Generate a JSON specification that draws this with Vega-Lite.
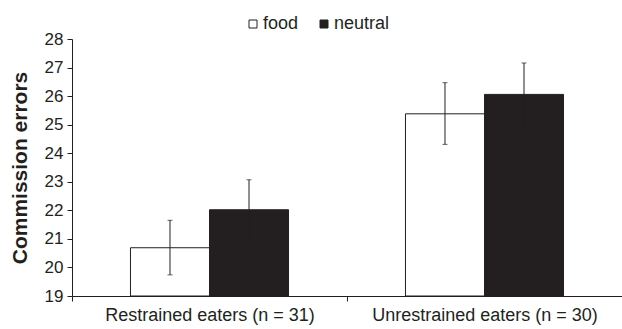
{
  "$schema": "https://vega.github.io/schema/vega-lite/v6.json",
  "width": 550,
  "height": 257,
  "autosize": "none",
  "padding": {"left": 72, "top": 39, "right": 0, "bottom": 33},
  "background": "white",
  "config": {
    "font": "Liberation Sans",
    "view": {"stroke": null},
    "axis": {"grid": false, "domainColor": "#231f20", "tickColor": "#231f20", "labelColor": "#231f20", "titleColor": "#231f20", "domainWidth": 1, "tickWidth": 1},
    "axisY": {"labelOverlap": false, "labelFontSize": 17, "tickSize": 5, "labelPadding": 4, "titleFontSize": 21, "titleFontWeight": "bold", "titlePadding": 14}
  },
  "data": {
    "values": [
      {"group": "Restrained eaters (n = 31)", "cue": "food", "mean": 20.69, "lo": 19.74, "hi": 21.65},
      {"group": "Restrained eaters (n = 31)", "cue": "neutral", "mean": 22.02, "lo": 20.97, "hi": 23.07},
      {"group": "Unrestrained eaters (n = 30)", "cue": "food", "mean": 25.38, "lo": 24.31, "hi": 26.47},
      {"group": "Unrestrained eaters (n = 30)", "cue": "neutral", "mean": 26.06, "lo": 24.96, "hi": 27.16}
    ]
  },
  "encoding": {
    "x": {
      "field": "group", "type": "nominal", "title": null,
      "scale": {"paddingInner": 0, "paddingOuter": 0},
      "axis": {"labelAngle": 0, "labelFontSize": 18, "labelLimit": 0, "labelOverlap": false, "tickBand": "extent", "tickSize": 5, "labelPadding": 5}
    },
    "xOffset": {"field": "cue", "type": "nominal", "scale": {"paddingInner": 0, "paddingOuter": 0.74}}
  },
  "layer": [
    {
      "mark": {"type": "bar", "stroke": "#231f20", "strokeWidth": 1},
      "encoding": {
        "y": {
          "field": "mean", "type": "quantitative", "title": "Commission errors",
          "scale": {"domain": [19, 28], "zero": false, "nice": false},
          "axis": {"values": [19, 20, 21, 22, 23, 24, 25, 26, 27, 28], "tickCount": 10}
        },
        "y2": {"datum": 19},
        "fill": {
          "field": "cue", "type": "nominal",
          "scale": {"domain": ["food", "neutral"], "range": ["white", "#231f20"]},
          "legend": {
            "title": null, "orient": "none", "direction": "horizontal", "legendX": 172, "legendY": -24,
            "symbolType": "square", "symbolSize": 64, "symbolStrokeColor": "#231f20", "symbolStrokeWidth": 1,
            "labelFontSize": 18, "labelColor": "#231f20", "labelOffset": 1, "columnPadding": 16
          }
        }
      }
    },
    {
      "mark": {"type": "rule", "color": "#231f20", "strokeWidth": 1},
      "encoding": {
        "y": {"field": "lo", "type": "quantitative", "title": "Commission errors", "axis": {"values": [19, 20, 21, 22, 23, 24, 25, 26, 27, 28], "tickCount": 10}},
        "y2": {"field": "hi"}
      }
    },
    {
      "mark": {"type": "tick", "color": "#231f20", "size": 5, "thickness": 1, "orient": "horizontal"},
      "encoding": {"y": {"field": "hi", "type": "quantitative", "title": "Commission errors", "axis": {"values": [19, 20, 21, 22, 23, 24, 25, 26, 27, 28], "tickCount": 10}}}
    },
    {
      "mark": {"type": "tick", "color": "#231f20", "size": 5, "thickness": 1, "orient": "horizontal"},
      "encoding": {"y": {"field": "lo", "type": "quantitative", "title": "Commission errors", "axis": {"values": [19, 20, 21, 22, 23, 24, 25, 26, 27, 28], "tickCount": 10}}}
    }
  ]
}
